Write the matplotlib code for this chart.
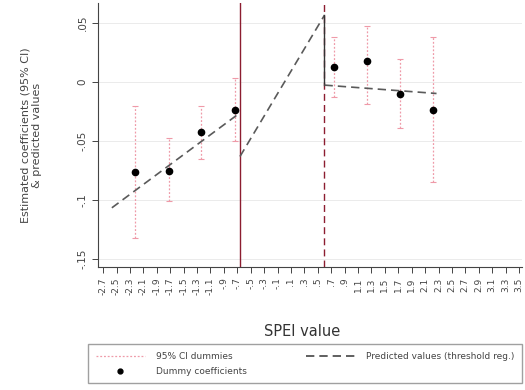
import matplotlib
matplotlib.use("Agg")
import matplotlib.pyplot as plt
import numpy as np

# dummy coefficients and 95% CI
dum_x = [-2.23, -1.72, -1.24, -0.74, 0.74, 1.23, 1.73, 2.22]
dum_b = [-0.0763, -0.0749, -0.0424, -0.0237, 0.0130, 0.0178, -0.0099, -0.0237]
ci_hi = [-0.020, -0.0475, -0.020, 0.0034, 0.0379, 0.0475, 0.0195, 0.0384]
ci_lo = [-0.132, -0.1006, -0.065, -0.050, -0.0125, -0.0186, -0.0392, -0.085]

# thresholds and predicted values of the threshold regression
thr1, thr2 = -0.66, 0.60
pred_x = [-2.57, -0.66, -0.66, 0.60, 0.60, 2.27]
pred_y = [-0.1065, -0.026, -0.063, 0.0568, -0.0025, -0.0096]

xticks = np.round(np.arange(-2.7, 3.51, 0.2), 1)
yticks = [0.05, 0, -0.05, -0.1, -0.15]

def stata_fmt(v):
    s = f"{v:g}"
    s = s.replace("0.", ".")
    return s

fig = plt.figure(figsize=(5.25, 3.9), dpi=100)
ax = fig.add_axes([0.187, 0.315, 0.808, 0.677])

for y in yticks:
    ax.axhline(y, color="#ebebeb", lw=0.7, zorder=0)

ci_col = "#ef9aa8"
yerr = [np.array(dum_b) - np.array(ci_lo), np.array(ci_hi) - np.array(dum_b)]
eb = ax.errorbar(dum_x, dum_b, yerr=yerr, fmt="none", ecolor=ci_col,
                 elinewidth=0.9, capsize=2.5, capthick=0.8, zorder=2)
eb[2][0].set_linestyle((0, (1.5, 1.5)))

ax.axvline(thr1, color="#8c1d30", lw=1.0, zorder=3)
ax.axvline(thr2, color="#8c1d30", lw=1.0, ls=(0, (5, 3)), zorder=3)

ax.plot(pred_x[:2], pred_y[:2], color="#5a5a5a", lw=1.2, ls=(0, (5, 3)), zorder=4)
ax.plot(pred_x[2:4], pred_y[2:4], color="#5a5a5a", lw=1.2, ls=(0, (5, 3)), zorder=4)
ax.plot(pred_x[3:5], pred_y[3:5], color="#333333", lw=1.0, zorder=4)
ax.plot(pred_x[4:], pred_y[4:], color="#5a5a5a", lw=1.2, ls=(0, (5, 3)), zorder=4)

ax.plot(dum_x, dum_b, "o", color="black", ms=4.5, zorder=5)

ax.set_xlim(-2.774, 3.55)
ax.set_ylim(-0.1568, 0.067)
ax.set_xticks(xticks)
ax.set_xticklabels([stata_fmt(v) for v in xticks], rotation=90, fontsize=6.5,
                   color="#444444")
ax.set_yticks(yticks)
ax.set_yticklabels([stata_fmt(v) for v in yticks], rotation=90, fontsize=7.5,
                   va="center", color="#444444")
ax.tick_params(length=4, width=0.7, color="#444444")
ax.spines["top"].set_visible(False)
ax.spines["right"].set_visible(False)
ax.spines["left"].set_color("#444444")
ax.spines["bottom"].set_color("#444444")

ax.set_xlabel("SPEI value", fontsize=10.5, color="#333333")
ax.xaxis.set_label_coords(0.48, -0.215)
ax.set_ylabel("Estimated coefficients (95% CI)\n& predicted values", fontsize=8,
              color="#444444", labelpad=26)

h_ci, = ax.plot([], [], color=ci_col, lw=0.9, ls=(0, (1.5, 1.5)))
h_dot, = ax.plot([], [], "o", color="black", ms=3.5)
h_pred, = ax.plot([], [], color="#444444", lw=1.2, ls=(0, (5, 3)))
leg = fig.legend([h_ci, h_dot, h_pred],
                 ["95% CI dummies", "Dummy coefficients", "Predicted values (threshold reg.)"],
                 ncol=2, loc="center", bbox_to_anchor=(0.581, 0.067),
                 fontsize=6.5, frameon=True, fancybox=False, edgecolor="#888888",
                 handlelength=5.5, columnspacing=6.5, borderpad=0.8,
                 labelspacing=0.7, handletextpad=1.2)
for t in leg.get_texts():
    t.set_color("#444444")

fig.savefig("out.png", dpi=100)
